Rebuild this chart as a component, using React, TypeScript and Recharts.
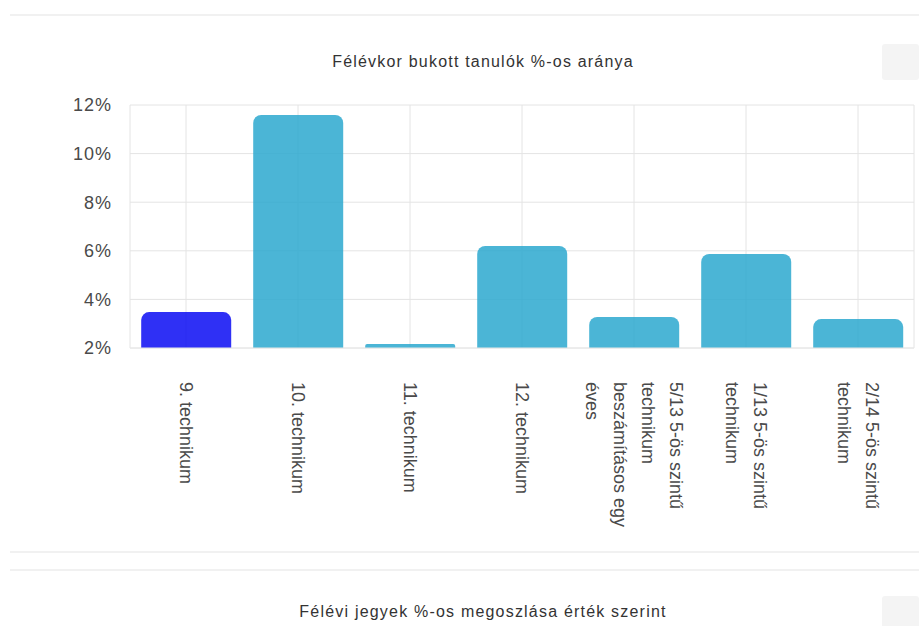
import React from "react";
import { Bar, BarChart, CartesianGrid, Cell, XAxis, YAxis } from "recharts";

// tick labels, one entry per category (already split into lines)
const CATEGORY_LINES: string[][] = [
  ["9. technikum"],
  ["10. technikum"],
  ["11. technikum"],
  ["12. technikum"],
  ["5/13 5-ös szintű", "technikum", "beszámításos egy", "éves"],
  ["1/13 5-ös szintű", "technikum"],
  ["2/14 5-ös szintű", "technikum"],
];
const FAIL_RATE = [3.48, 11.59, 2.16, 6.2, 3.28, 5.87, 3.19];
const BAR_COLORS = ["#0a0cf3", "#2ba8cf", "#2ba8cf", "#2ba8cf", "#2ba8cf", "#2ba8cf", "#2ba8cf"];
const Y_TICKS = [2, 4, 6, 8, 10, 12];

const TITLE = "Félévkor bukott tanulók %-os aránya";
const NEXT_TITLE = "Félévi jegyek %-os megoszlása érték szerint";

const FONT = "'Liberation Sans', Arial, sans-serif";

const data = CATEGORY_LINES.map((lines, i) => ({
  name: lines.join(" "),
  rate: FAIL_RATE[i],
}));

function XTick({ x, y, index }: any) {
  const lines = CATEGORY_LINES[index] || [];
  const mid = (lines.length - 1) / 2;
  return (
    <g transform={`translate(${x},${y + 34}) rotate(90)`}>
      {lines.map((l, i) => (
        <text
          key={i}
          x={0}
          y={(i - mid) * 28}
          textAnchor="start"
          dominantBaseline="central"
          fontSize={18}
          fontFamily={FONT}
          fill="#4a4a4a"
        >
          {l}
        </text>
      ))}
    </g>
  );
}

const rule = (top: number): React.CSSProperties => ({
  position: "absolute",
  left: 10,
  top,
  width: 909,
  height: 2,
  background: "#f1f1f1",
});

const titleStyle = (top: number): React.CSSProperties => ({
  position: "absolute",
  left: 233,
  top,
  width: 500,
  textAlign: "center",
  fontSize: 16,
  letterSpacing: 1.2,
  color: "#333",
  fontFamily: FONT,
  lineHeight: "18px",
});

const boxStyle = (top: number): React.CSSProperties => ({
  position: "absolute",
  left: 882,
  top,
  width: 37,
  height: 36,
  background: "#f4f4f4",
  borderRadius: 3,
});

export default function App() {
  return (
    <div
      style={{
        position: "absolute",
        left: 0,
        top: 0,
        width: 919,
        height: 626,
        background: "#fff",
        overflow: "hidden",
        fontFamily: FONT,
      }}
    >
      <div style={rule(14)} />
      <div style={titleStyle(53)}>{TITLE}</div>
      <div style={boxStyle(44)} />

      <div style={{ position: "absolute", left: 0, top: 0 }}>
        <BarChart
          width={919}
          height={626}
          data={data}
          margin={{ top: 105, right: 5, left: 0, bottom: 78 }}
          barCategoryGap="10%"
        >
          <CartesianGrid stroke="#e4e4e4" />
          <XAxis
            dataKey="name"
            height={200}
            interval={0}
            tickLine={false}
            tickSize={0}
            tickMargin={0}
            axisLine={{ stroke: "#e8e8e8" }}
            tick={<XTick />}
          />
          <YAxis
            width={130}
            domain={[2, 12]}
            ticks={Y_TICKS}
            allowDataOverflow
            tickLine={false}
            axisLine={false}
            tickSize={0}
            tickMargin={18}
            tickFormatter={(v: number) => `${v}%`}
            tick={{ fontSize: 18, fill: "#4a4a4a", fontFamily: FONT, letterSpacing: 1 }}
          />
          <Bar dataKey="rate" radius={[8, 8, 0, 0]} fillOpacity={0.85} isAnimationActive={false}>
            {data.map((_, i) => (
              <Cell key={i} fill={BAR_COLORS[i]} />
            ))}
          </Bar>
        </BarChart>
      </div>

      <div style={rule(551)} />
      <div style={rule(569)} />
      <div style={titleStyle(603)}>{NEXT_TITLE}</div>
      <div style={boxStyle(596)} />
    </div>
  );
}
